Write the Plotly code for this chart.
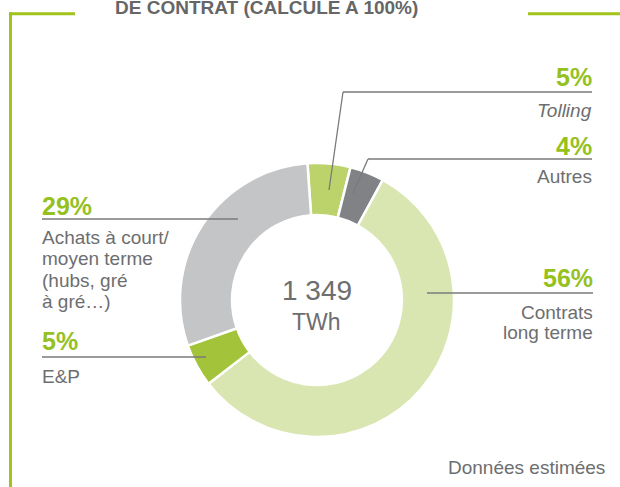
import plotly.graph_objects as go

W, H = 620, 487

categories = ["Tolling", "Autres", "Contrats long terme", "E&P", "Achats à court/moyen terme"]
values = [5, 4, 56, 5, 29]
pct_labels = ["5%", "4%", "56%", "5%", "29%"]
colors = ["#bcd36b", "#808285", "#d9e6b1", "#a3c43a", "#c4c5c7"]

GREEN = "#95c11f"
GRAY_TXT = "#6d6e70"
LINE = "#7a7a7a"
FONT = "Liberation Sans, Arial, sans-serif"

def X(px):
    return px / W

def Y(py):
    return 1 - py / H

cx, cy, r = 317, 300, 137

fig = go.Figure(go.Pie(
    labels=categories, values=values, sort=False, direction="clockwise",
    rotation=-4, hole=0.62, textinfo="none", hoverinfo="none",
    marker=dict(colors=colors, line=dict(color="white", width=2.5)),
    domain=dict(x=[X(cx - r), X(cx + r)], y=[Y(cy + r), Y(cy - r)]),
    showlegend=False,
))

ann = []
shapes = []

def text(x, y, s, size, color=GRAY_TXT, anchor="left", bold=False, italic=False):
    if bold:
        s = "<b>" + s + "</b>"
    if italic:
        s = "<i>" + s + "</i>"
    ann.append(dict(x=X(x), y=Y(y), xref="paper", yref="paper", text=s,
                    showarrow=False, xanchor=anchor, yanchor="middle",
                    xshift=(-2 if anchor == "left" else (2 if anchor == "right" else 0)),
                    font=dict(family=FONT, size=size, color=color)))

def line(x0, y0, x1, y1, color=LINE, width=1.3):
    shapes.append(dict(type="line", xref="paper", yref="paper",
                       x0=X(x0), y0=Y(y0), x1=X(x1), y1=Y(y1),
                       line=dict(color=color, width=width)))

PS = 25   # percentage font size
BS = 19   # body font size

# Tolling
text(592, 77, pct_labels[0], PS, GREEN, "right", bold=True)
line(343, 92, 592, 92)
line(343, 92, 329, 190)
text(592, 110, categories[0], BS, GRAY_TXT, "right", italic=True)

# Autres
text(592, 146, pct_labels[1], PS, GREEN, "right", bold=True)
line(368, 159, 592, 159)
line(368, 159, 353, 193)
text(592, 176, categories[1], BS, GRAY_TXT, "right")

# Contrats
text(593, 278, pct_labels[2], PS, GREEN, "right", bold=True)
line(427, 293, 593, 293)
text(593, 312, "Contrats", BS, GRAY_TXT, "right")
text(593, 332, "long terme", BS, GRAY_TXT, "right")

# Achats
text(42, 206, pct_labels[4], PS, GREEN, "left", bold=True)
line(42, 219, 238, 219)
for i, s in enumerate(["Achats à court/", "moyen terme", "(hubs, gré", "à gré…)"]):
    text(42, 237 + i * 21.6, s, BS, GRAY_TXT, "left")

# E&P
text(42, 341, pct_labels[3], PS, GREEN, "left", bold=True)
line(42, 357, 206, 357)
text(42, 376, categories[3], BS, GRAY_TXT, "left")

# centre
text(cx, 290, "1 349", 28, GRAY_TXT, "center")
text(cx, 322, "TWh", 23, GRAY_TXT, "center")

# footnote
text(605, 467, "Données estimées", BS, GRAY_TXT, "right")

# title (cut at top)
text(266, 7.5, "DE CONTRAT (CALCULE A 100%)", 19, "#666666", "center", bold=True)

# green frame
FR = "#a0c41a"
line(9, 13.7, 75, 13.7, FR, 3)
line(10.5, 12.2, 10.5, 487, FR, 3)
line(528, 13.7, 620, 13.7, FR, 3)

fig.update_layout(
    width=W, height=H, margin=dict(l=0, r=0, t=0, b=0),
    paper_bgcolor="white", plot_bgcolor="white",
    annotations=ann, shapes=shapes,
)

fig.write_html("out.html", config={"displayModeBar": False},
               post_script="document.body.style.margin='0';document.body.style.overflow='hidden';")
